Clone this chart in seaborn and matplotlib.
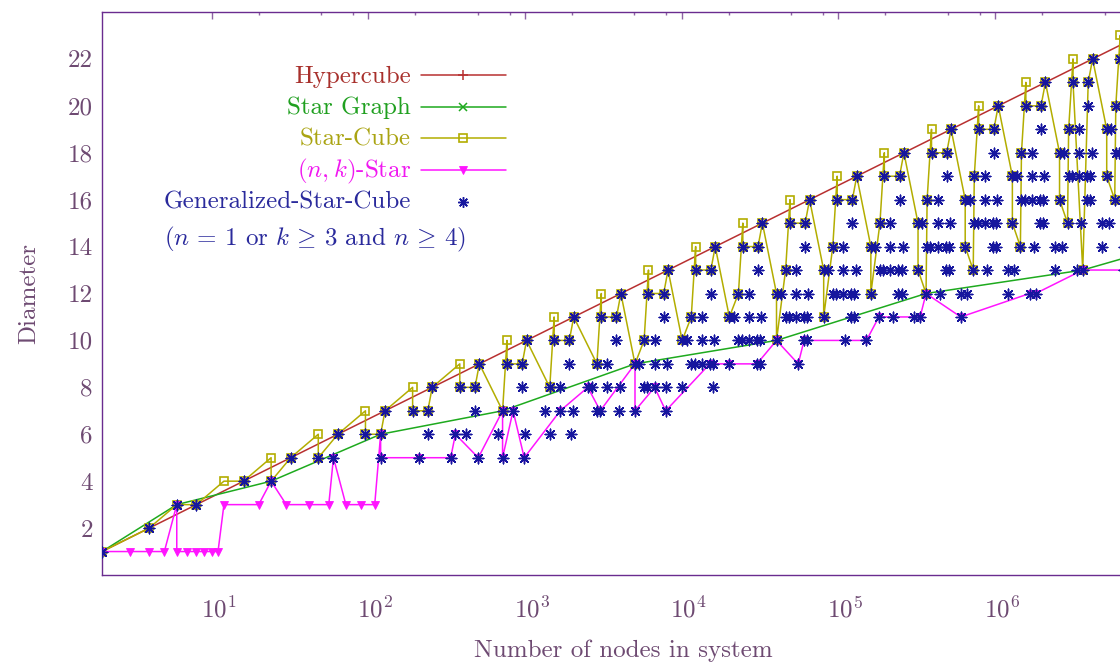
import matplotlib
matplotlib.use("Agg")
import numpy as np
import pandas as pd
import matplotlib.pyplot as plt
from matplotlib.lines import Line2D
from matplotlib.transforms import ScaledTranslation
from matplotlib.ticker import FixedLocator, FixedFormatter, NullFormatter
import seaborn as sns

# ---------------------------------------------------------------------------
# Data: number of nodes vs. diameter for each interconnection topology
# ---------------------------------------------------------------------------
hypercube_nodes = [2, 4, 8, 16, 32, 64, 128, 256, 512, 1024, 2048, 4096, 8192,
                   16384, 32768, 65536, 131072, 262144, 524288, 1048576,
                   2097152, 4194304, 8388608]
hypercube_diameter = [1, 2, 3, 4, 5, 6, 7, 8, 9, 10, 11, 12, 13,
                      14, 15, 16, 17, 18, 19, 20, 21, 22, 23]

star_graph_nodes = [2, 6, 24, 120, 720, 5040, 40320, 362880, 3628800, 39916800]
star_graph_diameter = [1, 3, 4, 6, 7, 9, 10, 12, 13, 15]

star_cube_nodes = [
    2, 4, 6, 8, 12, 16, 24, 24, 32, 48,
    48, 64, 96, 96, 120, 128, 192, 192, 240, 256,
    384, 384, 480, 512, 720, 768, 768, 960, 1024, 1440,
    1536, 1536, 1920, 2048, 2880, 3072, 3072, 3840, 4096, 5040,
    5760, 6144, 6144, 7680, 8192, 10080, 11520, 12288, 12288, 15360,
    16384, 20160, 23040, 24576, 24576, 30720, 32768, 40320, 40320, 46080,
    49152, 49152, 61440, 65536, 80640, 80640, 92160, 98304, 98304, 122880,
    131072, 161280, 161280, 184320, 196608, 196608, 245760, 262144, 322560, 322560,
    362880, 368640, 393216, 393216, 491520, 524288, 645120, 645120, 725760, 737280,
    786432, 786432, 983040, 1048576, 1290240, 1290240, 1451520, 1474560, 1572864, 1572864,
    1966080, 2097152, 2580480, 2580480, 2903040, 2949120, 3145728, 3145728, 3628800, 3932160,
    4194304, 5160960, 5160960, 5806080, 5898240, 6291456, 6291456, 7257600, 7864320, 8388608,
]
star_cube_diameter = [
    1, 2, 3, 3, 4, 4, 5, 4, 5, 6,
    5, 6, 7, 6, 6, 7, 8, 7, 7, 8,
    9, 8, 8, 9, 7, 10, 9, 9, 10, 8,
    11, 10, 10, 11, 9, 12, 11, 11, 12, 9,
    10, 13, 12, 12, 13, 10, 11, 14, 13, 13,
    14, 11, 12, 15, 14, 14, 15, 12, 10, 13,
    16, 15, 15, 16, 13, 11, 14, 17, 16, 16,
    17, 14, 12, 15, 18, 17, 17, 18, 15, 13,
    12, 16, 19, 18, 18, 19, 16, 14, 13, 17,
    20, 19, 19, 20, 17, 15, 14, 18, 21, 20,
    20, 21, 18, 16, 15, 19, 22, 21, 13, 21,
    22, 19, 17, 16, 20, 23, 22, 14, 22, 23,
]

nk_star_nodes = [
    2, 3, 4, 5, 6, 6, 7, 8, 9, 10, 11,
    12, 20, 24, 30, 42, 56, 60, 72, 90, 110,
    120, 120, 210, 336, 360, 504, 720, 720, 840, 990,
    1680, 2520, 3024, 5040, 5040, 6720, 7920, 15120, 20160, 30240,
    40320, 55440, 60480, 151200, 181440, 332640, 362880, 604800, 1663200, 1814400,
    3628800, 6652800, 19958400, 39916800,
]
nk_star_diameter = [
    1, 1, 1, 1, 3, 1, 1, 1, 1, 1, 1,
    3, 3, 4, 3, 3, 3, 5, 3, 3, 3,
    6, 5, 5, 5, 6, 5, 7, 5, 7, 5,
    7, 8, 7, 9, 7, 8, 7, 9, 9, 9,
    10, 9, 10, 10, 11, 11, 12, 11, 12, 12,
    13, 13, 14, 15,
]

# Generalized-Star-Cube configurations, one row of node counts per diameter
gsc_diameter_levels = list(range(1, 24))
gsc_nodes_per_level = [
    [2],
    [4],
    [6, 8],
    [16, 24],
    [32, 48, 60, 120, 210, 336, 504, 720, 990],
    [64, 96, 120, 240, 360, 420, 672, 1008, 1440, 1980],
    [128, 192, 240, 480, 720, 840, 1344, 1680, 2016, 2880, 3024, 3960, 5040, 7920],
    [256, 384, 480, 960, 1440, 1680, 2520, 2688, 3360, 4032, 5760, 6048, 6720,
     7920, 10080, 15840],
    [512, 768, 960, 1920, 2880, 3360, 5040, 5376, 6720, 8064, 11520, 12096,
     13440, 15120, 15840, 20160, 30240, 31680, 55440],
    [1024, 1536, 1920, 3840, 5760, 6720, 10080, 10752, 13440, 16128, 23040,
     24192, 26880, 30240, 31680, 40320, 60480, 63360, 110880, 151200],
    [2048, 3072, 3840, 7680, 11520, 13440, 20160, 21504, 26880, 32256, 46080,
     48384, 53760, 60480, 63360, 80640, 120960, 126720, 181440, 221760, 302400,
     332640, 604800],
    [4096, 6144, 7680, 15360, 23040, 26880, 40320, 43008, 53760, 64512, 92160,
     96768, 107520, 120960, 126720, 161280, 241920, 253440, 362880, 443520,
     604800, 665280, 1209600, 1663200, 1814400],
    [8192, 12288, 15360, 30720, 46080, 53760, 80640, 86016, 107520, 129024,
     184320, 193536, 215040, 241920, 253440, 322560, 483840, 506880, 725760,
     887040, 1209600, 1330560, 2419200, 3326400, 3628800, 6652800],
    [16384, 24576, 30720, 61440, 92160, 107520, 161280, 172032, 215040, 258048,
     368640, 387072, 430080, 483840, 506880, 645120, 967680, 1013760, 1451520,
     1774080, 2419200, 2661120, 4838400, 6652800, 7257600],
    [32768, 49152, 61440, 122880, 184320, 215040, 322560, 344064, 430080,
     516096, 737280, 774144, 860160, 967680, 1013760, 1290240, 1935360,
     2027520, 2903040, 3548160, 4838400, 5322240],
    [65536, 98304, 122880, 245760, 368640, 430080, 645120, 688128, 860160,
     1032192, 1474560, 1548288, 1720320, 1935360, 2027520, 2580480, 3870720,
     4055040, 5806080, 7096320],
    [131072, 196608, 245760, 491520, 737280, 860160, 1290240, 1376256, 1720320,
     2064384, 2949120, 3096576, 3440640, 3870720, 4055040, 5160960, 7741440,
     8110080],
    [262144, 393216, 491520, 983040, 1474560, 1720320, 2580480, 2752512,
     3440640, 4128768, 5898240, 6193152, 6881280, 7741440, 8110080],
    [524288, 786432, 983040, 1966080, 2949120, 3440640, 5160960, 5505024,
     6881280, 8257536],
    [1048576, 1572864, 1966080, 3932160, 5898240, 6881280],
    [2097152, 3145728, 3932160, 7864320],
    [4194304, 6291456, 7864320],
    [8388608],
]

x_ticks = [10, 100, 1000, 10000, 100000, 1000000]
x_tick_labels = [r"$10^{1}$", r"$10^{2}$", r"$10^{3}$", r"$10^{4}$",
                 r"$10^{5}$", r"$10^{6}$"]
x_minor_ticks = [20, 50, 80, 200, 500, 800, 2000, 5000, 8000, 20000, 50000,
                 80000, 200000, 500000, 800000, 2000000, 5000000, 8000000]
y_ticks = [2, 4, 6, 8, 10, 12, 14, 16, 18, 20, 22]

# ---------------------------------------------------------------------------
# Tables for seaborn
# ---------------------------------------------------------------------------
hyper_df = pd.DataFrame({"nodes": hypercube_nodes, "diameter": hypercube_diameter})
star_df = pd.DataFrame({"nodes": star_graph_nodes, "diameter": star_graph_diameter})
sc_df = pd.DataFrame({"nodes": star_cube_nodes, "diameter": star_cube_diameter})
nk_df = pd.DataFrame({"nodes": nk_star_nodes, "diameter": nk_star_diameter})
gsc_df = pd.DataFrame({
    "nodes": [n for row in gsc_nodes_per_level for n in row],
    "diameter": [d for d, row in zip(gsc_diameter_levels, gsc_nodes_per_level)
                 for _ in row],
})

# ---------------------------------------------------------------------------
# Style
# ---------------------------------------------------------------------------
sns.set_style("white")
plt.rcParams.update({
    "font.family": ["cmr10"],
    "mathtext.fontset": "cm",
    "axes.formatter.use_mathtext": True,
    "axes.unicode_minus": False,
    "font.size": 18,
})

hyper_color = "#b83030"
star_color = "#1eaa1e"
sc_color = "#b3ad00"
nk_color = "#ff14ff"
gsc_color = "#16169e"

hyper_text = "#a8302c"
star_text = "#20a020"
sc_text = "#aaa412"
nk_text = "#f018f0"
gsc_text = "#2a2a9c"

frame_color = "#6a2c8f"
tick_color = "#8d63a3"
label_color = "#6e4a72"

# ---------------------------------------------------------------------------
# Figure and axes (pixel-based layout)
# ---------------------------------------------------------------------------
W, H = 1120, 669
fig = plt.figure(figsize=(W / 100, H / 100), dpi=100)
fig.patch.set_facecolor("white")

x_lo, x_hi = 2, 1e7
px_per_decade = 156.7
ax_left_px, ax_bottom_px, ax_top_px = 102, 575, 12
ax_w_px = px_per_decade * np.log10(x_hi / x_lo)
ax_h_px = ax_bottom_px - ax_top_px
ax = fig.add_axes([ax_left_px / W, (H - ax_bottom_px) / H, ax_w_px / W, ax_h_px / H])
ax.set_facecolor("white")
ax.set_xscale("log")
ax.set_xlim(x_lo, x_hi)
ax.set_ylim(0, 24)

line_w = 1.1
gsc_marker = (8, 2, 0)

# Hypercube
sns.lineplot(data=hyper_df, x="nodes", y="diameter", ax=ax, sort=False,
             estimator=None, color=hyper_color, linewidth=line_w,
             marker="+", markersize=6.5, markeredgewidth=1.1,
             markeredgecolor=hyper_color, zorder=2)
# Star graph
sns.lineplot(data=star_df, x="nodes", y="diameter", ax=ax, sort=False,
             estimator=None, color=star_color, linewidth=line_w,
             marker="x", markersize=5.5, markeredgewidth=1.1,
             markeredgecolor=star_color, zorder=2)
# Star-Cube
sns.lineplot(data=sc_df, x="nodes", y="diameter", ax=ax, sort=False,
             estimator=None, color=sc_color, linewidth=line_w,
             marker="s", markersize=6.4, markeredgewidth=1.2,
             markeredgecolor=sc_color, markerfacecolor="none", zorder=2)
# (n,k)-Star
sns.lineplot(data=nk_df, x="nodes", y="diameter", ax=ax, sort=False,
             estimator=None, color=nk_color, linewidth=line_w,
             marker="v", markersize=5.8, markeredgewidth=0.6,
             markeredgecolor=nk_color, markerfacecolor=nk_color, zorder=2)
# Generalized-Star-Cube configurations
sns.scatterplot(data=gsc_df, x="nodes", y="diameter", ax=ax,
                marker=gsc_marker, s=58, color=gsc_color, linewidth=1.05,
                zorder=3, legend=False)

# ---------------------------------------------------------------------------
# Axes decoration
# ---------------------------------------------------------------------------
ax.xaxis.set_major_locator(FixedLocator(x_ticks))
ax.xaxis.set_major_formatter(FixedFormatter(x_tick_labels))
ax.xaxis.set_minor_locator(FixedLocator(x_minor_ticks))
ax.xaxis.set_minor_formatter(NullFormatter())
ax.yaxis.set_major_locator(FixedLocator(y_ticks))
ax.yaxis.set_major_formatter(FixedFormatter([str(v) for v in y_ticks]))

ax.tick_params(axis="both", which="both", direction="in", top=True,
               right=True, color=tick_color, width=1.0,
               labelcolor=label_color, labelsize=18)
ax.tick_params(axis="both", which="major", length=4.8)
ax.tick_params(axis="both", which="minor", length=2.4)
ax.tick_params(axis="x", which="major", pad=15.5)
ax.tick_params(axis="y", which="major", pad=6.5)

# the exponent labels sit slightly right of their ticks
label_shift = ScaledTranslation(7 / 100, 0, fig.dpi_scale_trans)
for lbl in ax.get_xticklabels():
    lbl.set_transform(lbl.get_transform() + label_shift)

for side in ["left", "right", "top", "bottom"]:
    ax.spines[side].set_visible(True)
    ax.spines[side].set_color(frame_color)
    ax.spines[side].set_linewidth(1.0)

ax.set_xlabel("Number of nodes in system", fontsize=18, color=label_color,
              va="baseline", ha="center")
ax.set_ylabel("Diameter", fontsize=18, color=label_color,
              va="baseline", ha="center")
ax.xaxis.set_label_coords((623 - ax_left_px) / ax_w_px,
                          (ax_bottom_px - 657) / ax_h_px)
ax.yaxis.set_label_coords((35 - ax_left_px) / ax_w_px, 0.5)
ax.grid(False)

# ---------------------------------------------------------------------------
# Key: right-aligned titles followed by line samples
# ---------------------------------------------------------------------------
def fx(px):
    return px / W


def fy(py):
    return 1 - py / H


text_right = 411
sample_x0, sample_x1, sample_xm = 421, 506, 463
key_rows = [
    ("Hypercube", hyper_text, hyper_color, 75.0,
     dict(marker="+", markersize=6.5, markeredgewidth=1.1,
          markeredgecolor=hyper_color), True),
    ("Star Graph", star_text, star_color, 106.5,
     dict(marker="x", markersize=5.5, markeredgewidth=1.1,
          markeredgecolor=star_color), True),
    ("Star-Cube", sc_text, sc_color, 138.0,
     dict(marker="s", markersize=6.4, markeredgewidth=1.2,
          markeredgecolor=sc_color, markerfacecolor="none"), True),
    (r"$(n,k)$-Star", nk_text, nk_color, 170.0,
     dict(marker="v", markersize=5.8, markeredgewidth=0.6,
          markeredgecolor=nk_color, markerfacecolor=nk_color), True),
    ("Generalized-Star-Cube", gsc_text, gsc_color, 201.5,
     dict(marker=gsc_marker, markersize=7.6, markeredgewidth=1.05,
          markeredgecolor=gsc_color), False),
]
for label, tcolor, lcolor, ypx, mk, with_line in key_rows:
    fig.text(fx(text_right), fy(ypx + 7.5), label, ha="right", va="baseline",
             fontsize=18, color=tcolor)
    if with_line:
        fig.add_artist(Line2D([fx(sample_x0), fx(sample_x1)], [fy(ypx), fy(ypx)],
                              color=lcolor, linewidth=line_w))
    fig.add_artist(Line2D([fx(sample_xm)], [fy(ypx)], linestyle="none",
                          color=lcolor, **mk))

fig.text(fx(164), fy(245.5),
         r"$(n\,=\,1$ or $k\,\geq\,3$ and $n\,\geq\,4)$",
         ha="left", va="baseline", fontsize=18, color=gsc_text)

fig.savefig("out.png", dpi=100, facecolor="white")
